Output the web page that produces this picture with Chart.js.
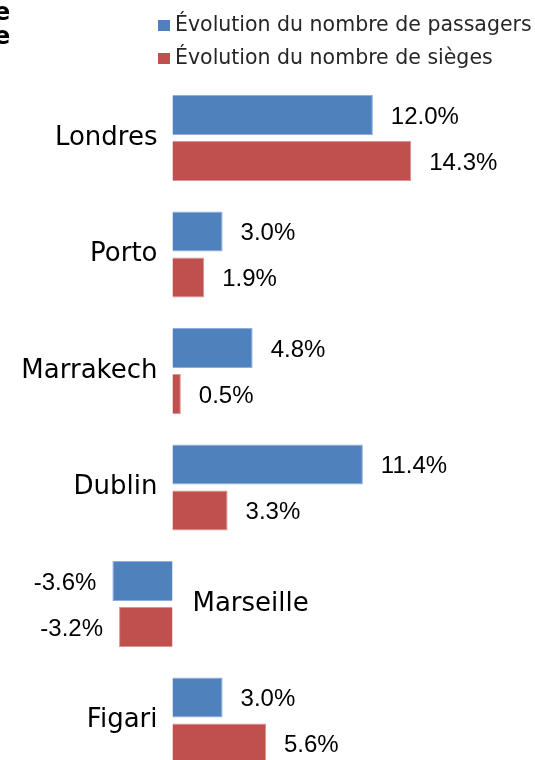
<!DOCTYPE html>
<html>
<head>
    <title>Évolution passagers / sièges</title>
    <script src="https://cdn.jsdelivr.net/npm/chart.js@4"></script>
    <style>
        html, body {
            margin: 0;
            padding: 0;
            overflow: hidden;
            background: #fff;
        }

        #titleCut {
            position: absolute;
            top: 0;
            left: -6px;
            font-size: 24px;
            line-height: 24px;
            font-weight: bold;
            font-family: 'DejaVu Sans', sans-serif;
            color: #000;
        }

        #legend {
            position: absolute;
            top: 8px;
            left: 158px;
            font-size: 20.5px;
            font-family: 'DejaVu Sans', sans-serif;
            color: #262626;
        }

        #legend div {
            height: 33px;
            line-height: 33px;
            white-space: nowrap;
        }

        #legend span.box {
            display: inline-block;
            width: 12px;
            height: 11px;
            margin-right: 5px;
            vertical-align: 0px;
        }

        #chart {
            position: absolute;
            top: 0;
            left: 0;
        }
    </style>
</head>
<body>
<canvas id="chart" width="535" height="790"></canvas>
<div id="titleCut">e<br>e</div>
<div id="legend"></div>
<script>
    // Values
    const categories = ['Londres', 'Porto', 'Marrakech', 'Dublin', 'Marseille', 'Figari'];
    const passagers = [12.0, 3.0, 4.8, 11.4, -3.6, 3.0];
    const sieges = [14.3, 1.9, 0.5, 3.3, -3.2, 5.6];
    const seriesNames = ['Évolution du nombre de passagers', 'Évolution du nombre de sièges'];
    const seriesColors = ['#4F81BD', '#C0504D'];

    // Legend as html, both rows left aligned like the original
    const legendDiv = document.getElementById('legend');
    seriesNames.forEach((name, i) => {
        const row = document.createElement('div');
        row.innerHTML = `<span class="box" style="background:${seriesColors[i]}"></span>${name}`;
        legendDiv.appendChild(row);
    });

    // Draws the value next to each bar and the city name next to the zero line
    const labelsPlugin = {
        id: 'barLabels',
        afterDatasetsDraw(chart) {
            const ctx = chart.ctx;
            const xScale = chart.scales.x;
            const yScale = chart.scales.y;
            ctx.save();
            ctx.fillStyle = '#000';
            ctx.textBaseline = 'middle';

            ctx.font = '24px "Liberation Sans", Arial, sans-serif';
            chart.data.datasets.forEach((ds, di) => {
                chart.getDatasetMeta(di).data.forEach((bar, i) => {
                    const v = ds.data[i];
                    const txt = v.toFixed(1) + '%';
                    if (v >= 0) {
                        ctx.textAlign = 'left';
                        ctx.fillText(txt, bar.x + 18, bar.y + 2);
                    } else {
                        ctx.textAlign = 'right';
                        ctx.fillText(txt, bar.x - 16, bar.y + 2);
                    }
                });
            });

            ctx.font = '26px "DejaVu Sans", sans-serif';
            const zero = xScale.getPixelForValue(0);
            categories.forEach((cat, i) => {
                const y = yScale.getPixelForValue(i);
                if (passagers[i] < 0 && sieges[i] < 0) {
                    ctx.textAlign = 'left';
                    ctx.fillText(cat, zero + 20, y);
                } else {
                    ctx.textAlign = 'right';
                    ctx.fillText(cat, zero - 15, y);
                }
            });
            ctx.restore();
        }
    };

    new Chart(document.getElementById('chart').getContext('2d'), {
        type: 'bar',
        data: {
            labels: categories,
            datasets: [{
                label: seriesNames[0],
                data: passagers,
                backgroundColor: seriesColors[0],
                borderColor: '#8eaedb',
                borderWidth: 1,
                categoryPercentage: 0.79,
                barPercentage: 0.87
            }, {
                label: seriesNames[1],
                data: sieges,
                backgroundColor: seriesColors[1],
                borderColor: '#d99593',
                borderWidth: 1,
                categoryPercentage: 0.79,
                barPercentage: 0.87
            }]
        },
        options: {
            indexAxis: 'y',
            responsive: false,
            animation: false,
            layout: {
                padding: { top: 79.75, bottom: 11.25, left: 0, right: 0 }
            },
            plugins: {
                legend: { display: false },
                tooltip: { enabled: false }
            },
            scales: {
                x: { display: false, min: -10.33, max: 21.71 },
                y: { display: false }
            }
        },
        plugins: [labelsPlugin]
    });
</script>
</body>
</html>
